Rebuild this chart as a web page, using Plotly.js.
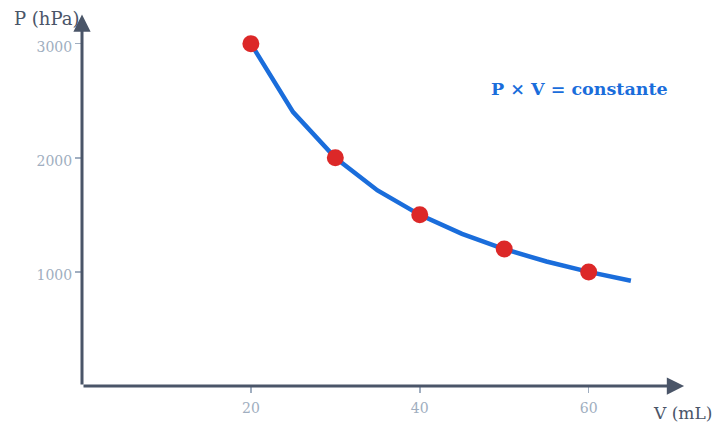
<!DOCTYPE html>
<html>
<head>
<meta charset="utf-8">
<script src="https://cdn.plot.ly/plotly-3.0.1.min.js"></script>
<style>html,body{margin:0;padding:0;background:#fff;}#chart{width:717px;height:429px;}</style>
</head>
<body>
<div id="chart"></div>
<script>
// Curve (piecewise)
var curveV = [20, 25, 30, 35, 40, 45, 50, 55, 60, 65];
var curveP = [3000, 2400, 2000, 1714, 1500, 1333, 1200, 1091, 1000, 923];
// Measured points
var pointV = [20, 30, 40, 50, 60];
var pointP = [3000, 2000, 1500, 1200, 1000];
// Ticks
var xTicks = [20, 40, 60];
var yTicks = [1000, 2000, 3000];
var xTitle = 'V (mL)';
var yTitle = 'P (hPa)';
var lawText = 'P × V = constante';

var FONT = 'DejaVu Serif, Liberation Serif, serif';
var BLUE = '#1a6ddb';
var RED = '#dc2828';
var AXIS = '#4a5568';
var TICK = '#a0aec0';

var traces = [
  {x: curveV, y: curveP, mode: 'lines', type: 'scatter',
   line: {color: BLUE, width: 4.5}, hoverinfo: 'skip', showlegend: false},
  {x: pointV, y: pointP, mode: 'markers', type: 'scatter',
   marker: {color: RED, size: 17}, showlegend: false}
];

var layout = {
  width: 717, height: 429,
  margin: {l: 82, r: 27, t: 14, b: 43},
  paper_bgcolor: '#fff', plot_bgcolor: '#fff',
  font: {family: FONT},
  showlegend: false,
  xaxis: {range: [0, 72], showgrid: false, zeroline: false, showline: false,
          tickvals: xTicks, ticktext: xTicks.map(String), ticks: 'outside', ticklen: 6,
          tickwidth: 1.5, tickcolor: TICK, ticklabelstandoff: 3,
          tickfont: {family: FONT, size: 14, color: TICK}},
  yaxis: {range: [0, 3260], showgrid: false, zeroline: false, showline: false,
          tickvals: yTicks, ticktext: yTicks.map(String), ticks: 'outside', ticklen: 6,
          tickwidth: 1.5, tickcolor: TICK, ticklabelshift: 3,
          tickfont: {family: FONT, size: 14, color: TICK}},
  annotations: [
    {x: 71.3, y: 0, ax: 0, ay: 0, xref: 'x', yref: 'y', axref: 'x', ayref: 'y',
     text: '', showarrow: true, arrowhead: 2, arrowsize: 1.15, arrowwidth: 3, arrowcolor: AXIS},
    {x: 0, y: 3255, ax: 0, ay: 0, xref: 'x', yref: 'y', axref: 'x', ayref: 'y',
     text: '', showarrow: true, arrowhead: 2, arrowsize: 1.15, arrowwidth: 3, arrowcolor: AXIS},
    {x: 0, y: 1, xref: 'paper', yref: 'paper', xanchor: 'right', yanchor: 'middle',
     xshift: 0, yshift: -4, text: yTitle, showarrow: false,
     font: {family: FONT, size: 18, color: AXIS}},
    {x: 1, y: 0, xref: 'paper', yref: 'paper', xanchor: 'left', yanchor: 'middle',
     xshift: -39, yshift: -27, text: xTitle, showarrow: false,
     font: {family: FONT, size: 17, color: AXIS}},
    {x: 58.9, y: 2600, xref: 'x', yref: 'y', xanchor: 'center', yanchor: 'middle',
     text: '<b>' + lawText + '</b>', showarrow: false,
     font: {family: FONT, size: 17.5, color: BLUE}}
  ]
};

Plotly.newPlot('chart', traces, layout, {displayModeBar: false, staticPlot: true});
</script>
</body>
</html>
